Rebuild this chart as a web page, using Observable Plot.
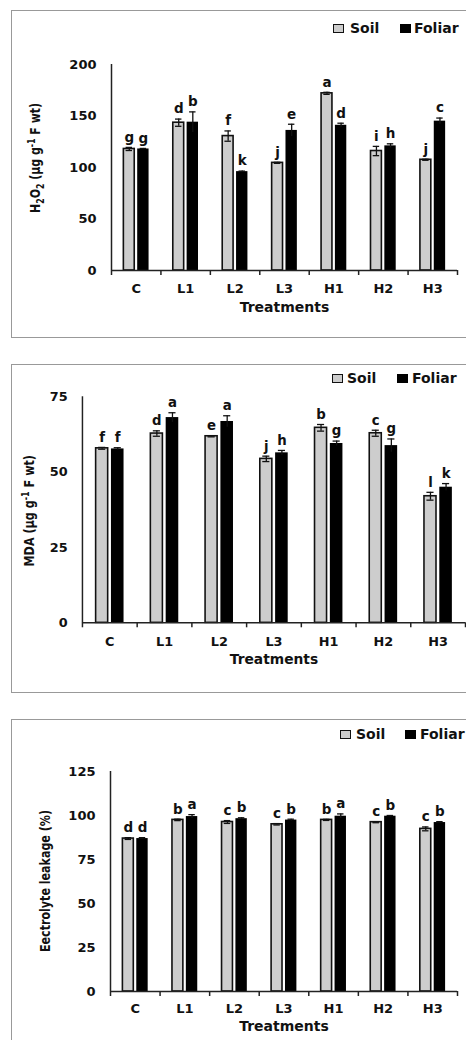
<!DOCTYPE html>
<html>
<head>
<meta charset="utf-8">
<script src="https://cdn.jsdelivr.net/npm/d3@7"></script>
<script src="https://cdn.jsdelivr.net/npm/@observablehq/plot@0.6"></script>
<style>
  html, body { margin: 0; padding: 0; background: #fff; }
  body { width: 466px; height: 1040px; overflow: hidden; position: relative; font-family: "DejaVu Sans", sans-serif; }
  .frame { position: absolute; border: 1.5px solid #999; box-sizing: border-box; }
  .panel { position: absolute; left: 0; }
  .legend { position: absolute; font-weight: bold; font-size: 14px; color: #111; line-height: 14px; white-space: nowrap; }
  .legend .box { position: absolute; top: 2px; width: 11px; height: 9px; box-sizing: border-box; }
  .legend .lab { position: absolute; top: -1px; }
</style>
</head>
<body>
<script>
// ---------- data ----------
const treatments = ["C", "L1", "L2", "L3", "H1", "H2", "H3"];
const seriesNames = ["Soil", "Foliar"];

// H2O2 (µg g-1 F wt)
const h2o2Soil = [118, 143.5, 130.5, 104.5, 172, 116, 107.5];
const h2o2SoilErr = [1.5, 3.5, 5, 0.5, 1, 4.5, 0.5];
const h2o2Foliar = [118, 144, 96, 136, 141, 121, 145];
const h2o2FoliarErr = [0.5, 10, 0.5, 6, 2, 2, 3];
const h2o2SoilLetters = ["g", "d", "f", "j", "a", "i", "j"];
const h2o2FoliarLetters = ["g", "b", "k", "e", "d", "h", "c"];
const h2o2Ticks = [0, 50, 100, 150, 200];

// MDA (µg g-1 F wt)
const mdaSoil = [57.9, 62.8, 61.9, 54.4, 64.7, 62.9, 42.0];
const mdaSoilErr = [0.3, 0.9, 0.2, 0.9, 1.1, 1.0, 1.3];
const mdaFoliar = [57.7, 68.1, 66.8, 56.4, 59.5, 58.8, 45.0];
const mdaFoliarErr = [0.4, 1.6, 1.9, 0.8, 0.8, 2.2, 1.2];
const mdaSoilLetters = ["f", "d", "e", "j", "b", "c", "l"];
const mdaFoliarLetters = ["f", "a", "a", "h", "g", "g", "k"];
const mdaTicks = [0, 25, 50, 75];

// Electrolyte leakage (%)
const elSoil = [86.9, 97.5, 96.3, 95.0, 97.5, 96.2, 92.4];
const elSoilErr = [0.5, 0.4, 0.8, 0.4, 0.3, 0.3, 1.1];
const elFoliar = [86.9, 99.4, 98.2, 97.4, 99.6, 99.6, 96.0];
const elFoliarErr = [0.5, 1.1, 0.5, 0.5, 1.3, 0.4, 0.5];
const elSoilLetters = ["d", "b", "c", "c", "b", "c", "c"];
const elFoliarLetters = ["d", "a", "b", "b", "a", "b", "b"];
const elTicks = [0, 25, 50, 75, 100, 125];

// ---------- drawing ----------
const SOIL = [0.25, 0.47];
const FOL = [0.53, 0.76];
const soilC = (SOIL[0] + SOIL[1]) / 2;
const folC = (FOL[0] + FOL[1]) / 2;
const capW = 0.065;

function makePanel(cfg) {
  const rows = treatments.map((t, i) => ({
    i, t,
    soil: cfg.soil[i], soilErr: cfg.soilErr[i], soilLetter: cfg.soilLetters[i],
    fol: cfg.fol[i], folErr: cfg.folErr[i], folLetter: cfg.folLetters[i]
  }));
  const plot = Plot.plot({
    width: cfg.width,
    height: cfg.height,
    marginLeft: cfg.marginLeft,
    marginRight: cfg.width - cfg.xEnd,
    marginTop: cfg.marginTop,
    marginBottom: cfg.marginBottom,
    style: { fontFamily: "DejaVu Sans, sans-serif", fontSize: "13px", fontWeight: "bold", color: "#111", background: "transparent", overflow: "visible" },
    x: { domain: [0, treatments.length] },
    y: { domain: [0, d3.max(cfg.ticks)] },
    marks: [
      Plot.axisY(cfg.ticks, { tickSize: 0, tickPadding: cfg.yPad, label: null, fontSize: 13, fontWeight: "bold" }),
      Plot.axisX(d3.range(0, treatments.length + 1), { tickSize: 5, tickFormat: () => "", label: null, strokeWidth: 1.5, stroke: "#222" }),
      Plot.axisX(treatments.map((_, i) => i + 0.5), { tickSize: 0, tickPadding: cfg.xPad, tickFormat: (d) => treatments[Math.floor(d)], label: null, fontSize: 13, fontWeight: "bold" }),
      Plot.rectY(rows, { x1: (d) => d.i + SOIL[0], x2: (d) => d.i + SOIL[1], y1: 0, y2: "soil", fill: "#cdcdcd", stroke: "#111", strokeWidth: 1.6 }),
      Plot.rectY(rows, { x1: (d) => d.i + FOL[0], x2: (d) => d.i + FOL[1], y1: 0, y2: "fol", fill: "#000" }),
      // error bars
      Plot.ruleX(rows, { x: (d) => d.i + soilC, y1: (d) => d.soil - d.soilErr, y2: (d) => d.soil + d.soilErr, stroke: "#111", strokeWidth: 1.3 }),
      Plot.ruleY(rows, { y: (d) => d.soil + d.soilErr, x1: (d) => d.i + soilC - capW, x2: (d) => d.i + soilC + capW, stroke: "#111", strokeWidth: 1.3 }),
      Plot.ruleY(rows, { y: (d) => d.soil - d.soilErr, x1: (d) => d.i + soilC - capW, x2: (d) => d.i + soilC + capW, stroke: "#111", strokeWidth: 1.3 }),
      Plot.ruleX(rows, { x: (d) => d.i + folC, y1: (d) => d.fol - d.folErr, y2: (d) => d.fol + d.folErr, stroke: "#111", strokeWidth: 1.3 }),
      Plot.ruleY(rows, { y: (d) => d.fol + d.folErr, x1: (d) => d.i + folC - capW, x2: (d) => d.i + folC + capW, stroke: "#111", strokeWidth: 1.3 }),
      // letters
      Plot.text(rows, { x: (d) => d.i + soilC, y: (d) => d.soil + d.soilErr, text: "soilLetter", dy: -10, fontSize: 13.5, fontWeight: "bold", fill: "#111" }),
      Plot.text(rows, { x: (d) => d.i + folC, y: (d) => d.fol + d.folErr, text: "folLetter", dy: -10, fontSize: 13.5, fontWeight: "bold", fill: "#111" }),
      // axis lines
      Plot.ruleX([0], { stroke: "#222", strokeWidth: 1.5 }),
      Plot.ruleY([0], { stroke: "#222", strokeWidth: 1.5 }),
      Plot.text(["Treatments"], { frameAnchor: "bottom", dy: cfg.titleDy, fontSize: 14, fontWeight: "bold", fill: "#111" })
    ]
  });
  // rotated y label with sub/superscripts
  const svg = d3.select(plot);
  const txt = svg.append("text")
    .attr("transform", `translate(${cfg.labelX},${cfg.labelY}) rotate(-90)`)
    .attr("text-anchor", "middle")
    .attr("dy", "0.35em")
    .attr("font-size", cfg.labelSize)
    .attr("font-weight", "bold")
    .attr("fill", "#111")
    .attr("textLength", cfg.labelLen)
    .attr("lengthAdjust", "spacingAndGlyphs");
  let shift = 0;
  for (const [s, kind] of cfg.labelParts) {
    const target = kind === "sub" ? 3.5 : kind === "sup" ? -5 : 0;
    const ts = txt.append("tspan").text(s).attr("dy", target - shift);
    if (kind) ts.attr("font-size", cfg.labelSize * 0.72);
    shift = target;
  }
  return plot;
}

function addPanel(cfg) {
  const frame = document.createElement("div");
  frame.className = "frame";
  Object.assign(frame.style, { left: "11px", top: cfg.frameTop + "px", width: "480px", height: cfg.frameH + "px" });
  document.body.appendChild(frame);

  const wrap = document.createElement("div");
  wrap.className = "panel";
  wrap.style.top = cfg.top + "px";
  wrap.appendChild(makePanel(cfg));
  document.body.appendChild(wrap);

  const lg = document.createElement("div");
  lg.className = "legend";
  lg.style.left = "0px";
  lg.style.top = (cfg.legendY - 7) + "px";
  const items = [
    { name: seriesNames[0], box: cfg.legendX[0], lab: cfg.legendX[1], fill: "#cdcdcd", border: "1.6px solid #111" },
    { name: seriesNames[1], box: cfg.legendX[2], lab: cfg.legendX[3], fill: "#000", border: "none" }
  ];
  for (const it of items) {
    const b = document.createElement("span");
    b.className = "box";
    Object.assign(b.style, { left: it.box + "px", background: it.fill, border: it.border });
    const l = document.createElement("span");
    l.className = "lab";
    l.style.left = it.lab + "px";
    l.textContent = it.name;
    lg.appendChild(b);
    lg.appendChild(l);
  }
  document.body.appendChild(lg);
}

addPanel({
  top: 0, width: 466, height: 340, marginLeft: 111, xEnd: 457, marginTop: 64, marginBottom: 70,
  soil: h2o2Soil, soilErr: h2o2SoilErr, fol: h2o2Foliar, folErr: h2o2FoliarErr,
  soilLetters: h2o2SoilLetters, folLetters: h2o2FoliarLetters, ticks: h2o2Ticks,
  yPad: 15, xPad: 13, titleDy: 41,
  labelX: 40, labelY: 158, labelSize: 14, labelLen: 110,
  labelParts: [["H", ""], ["2", "sub"], ["O", ""], ["2", "sub"], [" (μg g", ""], ["-1", "sup"], [" F wt)", ""]],
  frameTop: 10, frameH: 328, legendY: 29, legendX: [333, 350, 400, 414]
});

addPanel({
  top: 340, width: 472, height: 353, marginLeft: 83, xEnd: 471, marginTop: 57, marginBottom: 67,
  soil: mdaSoil, soilErr: mdaSoilErr, fol: mdaFoliar, folErr: mdaFoliarErr,
  soilLetters: mdaSoilLetters, folLetters: mdaFoliarLetters, ticks: mdaTicks,
  yPad: 15, xPad: 14, titleDy: 42,
  labelX: 34, labelY: 173, labelSize: 14, labelLen: 113,
  labelParts: [["MDA (μg g", ""], ["-1", "sup"], [" F wt)", ""]],
  frameTop: 364, frameH: 329, legendY: 379, legendX: [332, 347, 397, 412]
});

addPanel({
  top: 696, width: 466, height: 344, marginLeft: 110, xEnd: 457, marginTop: 75, marginBottom: 49,
  soil: elSoil, soilErr: elSoilErr, fol: elFoliar, folErr: elFoliarErr,
  soilLetters: elSoilLetters, folLetters: elFoliarLetters, ticks: elTicks,
  yPad: 15, xPad: 12, titleDy: 39,
  labelX: 50, labelY: 185, labelSize: 14, labelLen: 142,
  labelParts: [["Eectrolyte leakage (%)", ""]],
  frameTop: 719, frameH: 400, legendY: 735, legendX: [340, 356, 405, 420]
});
</script>
</body>
</html>
